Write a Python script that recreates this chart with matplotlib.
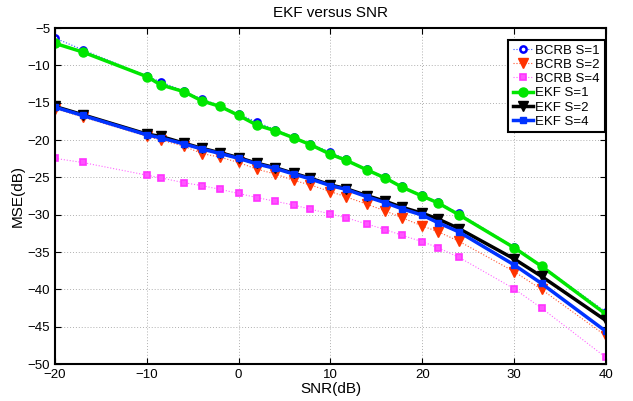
import matplotlib
matplotlib.use('Agg')
import matplotlib.pyplot as plt

plt.rcParams['font.family'] = ['Liberation Sans', 'DejaVu Sans']

# SNR points (dB)
snr = [-20, -17, -10, -8.5, -6, -4, -2, 0, 2, 4, 6, 7.8, 10, 11.7, 14, 16, 17.8,
       20, 21.7, 24, 30, 33, 40]

# BCRB curves (MSE in dB)
bcrb_s1 = [-6.35, -7.9, -11.4, -12.2, -13.4, -14.5, -15.4, -16.5, -17.6, -18.6,
           -19.6, -20.5, -21.6, -22.6, -23.9, -25.0, -26.2, -27.4, -28.3, -29.8,
           -34.3, -36.8, -43.0]
bcrb_s2 = [-15.8, -16.9, -19.5, -20.0, -20.8, -21.8, -22.3, -23.0, -23.9, -24.55,
           -25.4, -26.0, -26.9, -27.6, -28.6, -29.5, -30.4, -31.5, -32.25, -33.55,
           -37.6, -40.0, -46.2]
bcrb_s4 = [-22.45, -23.0, -24.7, -25.05, -25.7, -26.1, -26.6, -27.15, -27.7, -28.2,
           -28.7, -29.25, -29.9, -30.4, -31.25, -32.0, -32.75, -33.6, -34.4, -35.7,
           -39.9, -42.5, -49.1]

# EKF curves (MSE in dB)
ekf_s1 = [-7.05, -8.2, -11.5, -12.6, -13.5, -14.75, -15.5, -16.7, -18.0, -18.75,
          -19.7, -20.6, -21.9, -22.7, -24.0, -25.1, -26.3, -27.5, -28.4, -30.0,
          -34.4, -36.9, -43.3]
ekf_s2 = [-15.5, -16.6, -19.2, -19.5, -20.4, -21.1, -21.7, -22.35, -23.1, -23.7,
          -24.45, -25.1, -26.0, -26.5, -27.45, -28.2, -29.0, -29.8, -30.55, -31.85,
          -35.9, -38.25, -44.15]
ekf_s4 = [-15.6, -16.7, -19.3, -19.7, -20.5, -21.2, -21.8, -22.45, -23.2, -23.8,
          -24.55, -25.2, -26.1, -26.6, -27.6, -28.4, -29.2, -30.05, -31.05, -32.3,
          -36.7, -39.2, -45.6]

fig = plt.figure(figsize=(6.33, 4.01), dpi=100)
ax = fig.add_axes([0.087, 0.092, 0.870, 0.838])

# BCRB: thin dotted lines with markers
ax.plot(snr, bcrb_s1, ':', color='#3355ff', lw=0.8, marker='o', ms=4.5,
        mfc='white', mec='blue', mew=1.8, label='BCRB S=1')
ax.plot(snr, bcrb_s2, ':', color='#ff5533', lw=0.8, marker='v', ms=6.5,
        mfc='#ff3300', mec='#ff3300', label='BCRB S=2')
ax.plot(snr, bcrb_s4, ':', color='#ff66ff', lw=0.8, marker='s', ms=4,
        mfc='#ff55ff', mec='#ff33ff', mew=1.2, label='BCRB S=4')

# EKF: thick solid lines
ax.plot(snr, ekf_s1, '-', color='#00e600', lw=2.5, marker='o', ms=6.5,
        mfc='#00e600', mec='#00e600', label='EKF S=1')
ax.plot(snr, ekf_s2, '-', color='black', lw=2.5, marker='v', ms=7,
        mfc='black', mec='black', label='EKF S=2')
ax.plot(snr, ekf_s4, '-', color='#0033ff', lw=2.5, marker='s', ms=5,
        mfc='#0033ff', mec='#0033ff', label='EKF S=4')

ax.set_xlim(-20, 40)
ax.set_ylim(-50, -5)
ax.set_xticks([-20, -10, 0, 10, 20, 30, 40])
ax.set_yticks(range(-50, -4, 5))
ax.grid(True, linestyle=(0, (1, 2)), color='#b0b0b0', lw=0.7)
ax.tick_params(direction='in', labelsize=9.5, length=4, top=True, right=True)
for s in ax.spines.values():
    s.set_linewidth(1.5)

ax.set_title('EKF versus SNR', fontsize=11, pad=8)
ax.set_xlabel('SNR(dB)', fontsize=11, labelpad=1)
ax.set_ylabel('MSE(dB)', fontsize=11, labelpad=2)

leg = ax.legend(loc='upper right', bbox_to_anchor=(0.998, 0.965), fontsize=9.5,
                fancybox=False, framealpha=1, edgecolor='black',
                borderaxespad=0, handlelength=1.5, handletextpad=0.2,
                labelspacing=0.15, borderpad=0.35)
leg.get_frame().set_linewidth(1.5)

fig.savefig('out.png', dpi=100)
